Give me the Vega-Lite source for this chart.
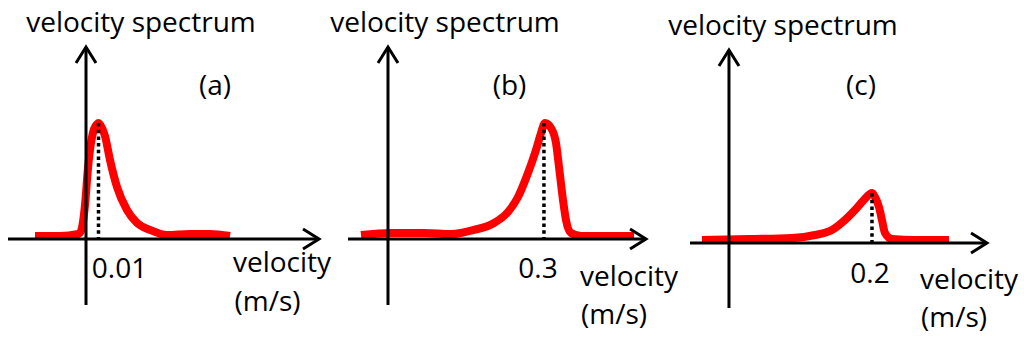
{
  "$schema": "https://vega.github.io/schema/vega-lite/v6.json",
  "padding": 0,
  "spacing": 0,
  "bounds": "flush",
  "background": "white",
  "config": {"view": {"stroke": null}, "text": {"font": "Open Sans", "fontSize": 28, "color": "black", "align": "center", "baseline": "alphabetic"}},
  "hconcat": [
    {
      "width": 341, "height": 338,
      "layer": [
        {
          "data": {"values": [
            {"v": -0.0408, "s": 0.026}, {"v": -0.0208, "s": 0.026}, {"v": -0.0064, "s": 0.043}, {"v": -0.004, "s": 0.069},
            {"v": -0.0024, "s": 0.147}, {"v": -0.0008, "s": 0.293}, {"v": 0.0016, "s": 0.612}, {"v": 0.004, "s": 0.828},
            {"v": 0.0064, "s": 0.948}, {"v": 0.0088, "s": 0.99}, {"v": 0.01, "s": 1.0}, {"v": 0.0128, "s": 0.957},
            {"v": 0.0152, "s": 0.888}, {"v": 0.0192, "s": 0.681}, {"v": 0.0248, "s": 0.448}, {"v": 0.0328, "s": 0.25},
            {"v": 0.0408, "s": 0.138}, {"v": 0.0512, "s": 0.078}, {"v": 0.0648, "s": 0.034}, {"v": 0.0832, "s": 0.043},
            {"v": 0.0992, "s": 0.043}, {"v": 0.1152, "s": 0.026}
          ]},
          "mark": {"type": "line", "color": "#ff0000", "strokeWidth": 8, "interpolate": "monotone", "strokeCap": "butt"},
          "encoding": {
            "x": {"field": "v", "type": "quantitative", "axis": null, "scale": {"domain": [-0.0688, 0.204], "nice": false, "zero": false}},
            "y": {"field": "s", "type": "quantitative", "axis": null, "scale": {"domain": [-0.8534, 2.0603], "nice": false, "zero": false}}
          }
        },
        {
          "data": {"values": [
            {"id": "yaxis", "o": 1, "v": 0, "s": -0.569}, {"id": "yaxis", "o": 2, "v": 0, "s": 1.655},
            {"id": "xaxis", "o": 1, "v": -0.0624, "s": 0}, {"id": "xaxis", "o": 2, "v": 0.1864, "s": 0},
            {"id": "yhead", "o": 1, "v": -0.008, "s": 1.517}, {"id": "yhead", "o": 2, "v": 0, "s": 1.655}, {"id": "yhead", "o": 3, "v": 0.008, "s": 1.517},
            {"id": "xhead", "o": 1, "v": 0.1736, "s": 0.0862}, {"id": "xhead", "o": 2, "v": 0.1864, "s": 0}, {"id": "xhead", "o": 3, "v": 0.1736, "s": -0.0862}
          ]},
          "mark": {"type": "line", "color": "black", "strokeWidth": 3, "strokeCap": "butt", "strokeJoin": "miter"},
          "encoding": {
            "x": {"field": "v", "type": "quantitative"},
            "y": {"field": "s", "type": "quantitative"},
            "detail": {"field": "id"},
            "order": {"field": "o"}
          }
        },
        {
          "data": {"values": [{"v": 0.01, "s": 1.0, "s2": 0}]},
          "mark": {"type": "rule", "color": "black", "strokeWidth": 3.5, "strokeDash": [3.5, 3.2]},
          "encoding": {
            "x": {"field": "v", "type": "quantitative"},
            "y": {"field": "s", "type": "quantitative"},
            "y2": {"field": "s2"}
          }
        },
        {
          "data": {"values": [
            {"v": 0.044, "s": 1.784, "label": "velocity spectrum"},
            {"v": 0.1032, "s": 1.241, "label": "(a)"},
            {"v": 0.0268, "s": -0.336, "label": "0.01"},
            {"v": 0.1568, "s": -0.284, "label": "velocity"},
            {"v": 0.1452, "s": -0.621, "label": "(m/s)"}
          ]},
          "mark": {"type": "text"},
          "encoding": {
            "x": {"field": "v", "type": "quantitative"},
            "y": {"field": "s", "type": "quantitative"},
            "text": {"field": "label"}
          }
        }
      ]
    },
    {
      "width": 341, "height": 338,
      "layer": [
        {
          "data": {"values": [
            {"v": -0.0516, "s": 0.034}, {"v": 0.0057, "s": 0.052}, {"v": 0.0688, "s": 0.052}, {"v": 0.1204, "s": 0.043},
            {"v": 0.1643, "s": 0.078}, {"v": 0.2026, "s": 0.138}, {"v": 0.2293, "s": 0.233}, {"v": 0.2484, "s": 0.362},
            {"v": 0.2675, "s": 0.569}, {"v": 0.2828, "s": 0.767}, {"v": 0.2924, "s": 0.914}, {"v": 0.3, "s": 1.0},
            {"v": 0.3115, "s": 0.957}, {"v": 0.321, "s": 0.828}, {"v": 0.3268, "s": 0.621}, {"v": 0.3344, "s": 0.336},
            {"v": 0.3401, "s": 0.164}, {"v": 0.3497, "s": 0.052}, {"v": 0.3688, "s": 0.026}, {"v": 0.4204, "s": 0.026},
            {"v": 0.4701, "s": 0.026}
          ]},
          "mark": {"type": "line", "color": "#ff0000", "strokeWidth": 8, "interpolate": "monotone", "strokeCap": "butt"},
          "encoding": {
            "x": {"field": "v", "type": "quantitative", "axis": null, "scale": {"domain": [-0.0898, 0.5618], "nice": false, "zero": false}},
            "y": {"field": "s", "type": "quantitative", "axis": null, "scale": {"domain": [-0.8534, 2.0603], "nice": false, "zero": false}}
          }
        },
        {
          "data": {"values": [
            {"id": "yaxis", "o": 1, "v": 0, "s": -0.569}, {"id": "yaxis", "o": 2, "v": 0, "s": 1.655},
            {"id": "xaxis", "o": 1, "v": -0.0764, "s": 0}, {"id": "xaxis", "o": 2, "v": 0.493, "s": 0},
            {"id": "yhead", "o": 1, "v": -0.0191, "s": 1.517}, {"id": "yhead", "o": 2, "v": 0, "s": 1.655}, {"id": "yhead", "o": 3, "v": 0.0191, "s": 1.517},
            {"id": "xhead", "o": 1, "v": 0.4625, "s": 0.0862}, {"id": "xhead", "o": 2, "v": 0.493, "s": 0}, {"id": "xhead", "o": 3, "v": 0.4625, "s": -0.0862}
          ]},
          "mark": {"type": "line", "color": "black", "strokeWidth": 3, "strokeCap": "butt", "strokeJoin": "miter"},
          "encoding": {
            "x": {"field": "v", "type": "quantitative"},
            "y": {"field": "s", "type": "quantitative"},
            "detail": {"field": "id"},
            "order": {"field": "o"}
          }
        },
        {
          "data": {"values": [{"v": 0.298, "s": 1.0, "s2": 0}]},
          "mark": {"type": "rule", "color": "black", "strokeWidth": 3.5, "strokeDash": [3.5, 3.2]},
          "encoding": {
            "x": {"field": "v", "type": "quantitative"},
            "y": {"field": "s", "type": "quantitative"},
            "y2": {"field": "s2"}
          }
        },
        {
          "data": {"values": [
            {"v": 0.1089, "s": 1.784, "label": "velocity spectrum"},
            {"v": 0.2322, "s": 1.241, "label": "(b)"},
            {"v": 0.2866, "s": -0.336, "label": "0.3"},
            {"v": 0.4605, "s": -0.405, "label": "velocity"},
            {"v": 0.4319, "s": -0.733, "label": "(m/s)"}
          ]},
          "mark": {"type": "text"},
          "encoding": {
            "x": {"field": "v", "type": "quantitative"},
            "y": {"field": "s", "type": "quantitative"},
            "text": {"field": "label"}
          }
        }
      ]
    },
    {
      "width": 342, "height": 338,
      "layer": [
        {
          "data": {"values": [
            {"v": -0.0378, "s": 0.026}, {"v": 0.028, "s": 0.034}, {"v": 0.0881, "s": 0.043}, {"v": 0.1203, "s": 0.069},
            {"v": 0.144, "s": 0.112}, {"v": 0.1622, "s": 0.198}, {"v": 0.1762, "s": 0.284}, {"v": 0.1888, "s": 0.371},
            {"v": 0.2, "s": 0.431}, {"v": 0.2042, "s": 0.397}, {"v": 0.2098, "s": 0.31}, {"v": 0.214, "s": 0.198},
            {"v": 0.2182, "s": 0.086}, {"v": 0.228, "s": 0.034}, {"v": 0.2601, "s": 0.026}, {"v": 0.3077, "s": 0.026}
          ]},
          "mark": {"type": "line", "color": "#ff0000", "strokeWidth": 8, "interpolate": "monotone", "strokeCap": "butt"},
          "encoding": {
            "x": {"field": "v", "type": "quantitative", "axis": null, "scale": {"domain": [-0.0657, 0.4126], "nice": false, "zero": false}},
            "y": {"field": "s", "type": "quantitative", "axis": null, "scale": {"domain": [-0.819, 2.0948], "nice": false, "zero": false}}
          }
        },
        {
          "data": {"values": [
            {"id": "yaxis", "o": 1, "v": 0, "s": -0.56}, {"id": "yaxis", "o": 2, "v": 0, "s": 1.664},
            {"id": "xaxis", "o": 1, "v": -0.0545, "s": 0}, {"id": "xaxis", "o": 2, "v": 0.3608, "s": 0},
            {"id": "yhead", "o": 1, "v": -0.014, "s": 1.526}, {"id": "yhead", "o": 2, "v": 0, "s": 1.664}, {"id": "yhead", "o": 3, "v": 0.014, "s": 1.526},
            {"id": "xhead", "o": 1, "v": 0.3385, "s": 0.0862}, {"id": "xhead", "o": 2, "v": 0.3608, "s": 0}, {"id": "xhead", "o": 3, "v": 0.3385, "s": -0.0862}
          ]},
          "mark": {"type": "line", "color": "black", "strokeWidth": 3, "strokeCap": "butt", "strokeJoin": "miter"},
          "encoding": {
            "x": {"field": "v", "type": "quantitative"},
            "y": {"field": "s", "type": "quantitative"},
            "detail": {"field": "id"},
            "order": {"field": "o"}
          }
        },
        {
          "data": {"values": [{"v": 0.2, "s": 0.431, "s2": 0}]},
          "mark": {"type": "rule", "color": "black", "strokeWidth": 3.5, "strokeDash": [3.5, 3.2]},
          "encoding": {
            "x": {"field": "v", "type": "quantitative"},
            "y": {"field": "s", "type": "quantitative"},
            "y2": {"field": "s2"}
          }
        },
        {
          "data": {"values": [
            {"v": 0.0755, "s": 1.793, "label": "velocity spectrum"},
            {"v": 0.1846, "s": 1.276, "label": "(c)"},
            {"v": 0.1972, "s": -0.345, "label": "0.2"},
            {"v": 0.3357, "s": -0.397, "label": "velocity"},
            {"v": 0.3147, "s": -0.724, "label": "(m/s)"}
          ]},
          "mark": {"type": "text"},
          "encoding": {
            "x": {"field": "v", "type": "quantitative"},
            "y": {"field": "s", "type": "quantitative"},
            "text": {"field": "label"}
          }
        }
      ]
    }
  ]
}
